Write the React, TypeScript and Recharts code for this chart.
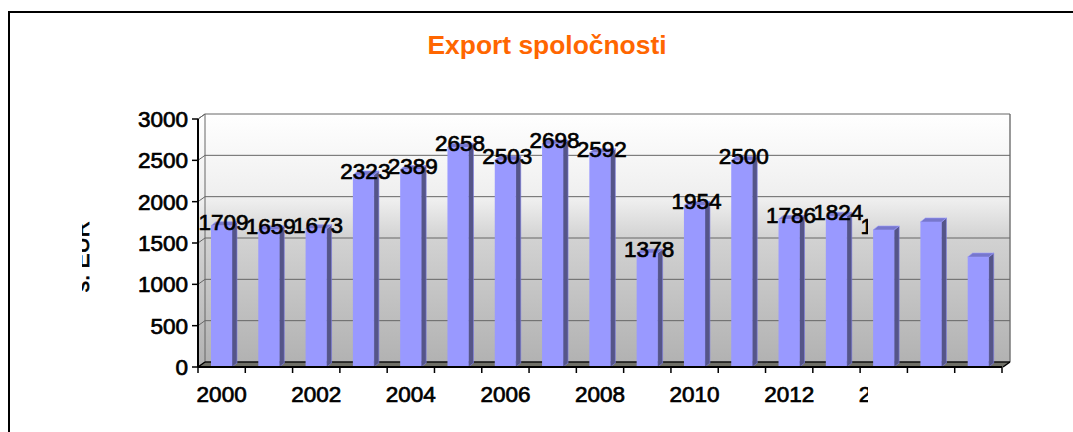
import { BarChart, Bar, XAxis, YAxis, CartesianGrid, LabelList } from "recharts";

const years = ["2000", "2001", "2002", "2003", "2004", "2005", "2006", "2007", "2008", "2009", "2010", "2011", "2012", "2013", "2014", "2015", "2016"];
const exportValues = [1709, 1659, 1673, 2323, 2389, 2658, 2503, 2698, 2592, 1378, 1954, 2500, 1786, 1824, 1657, 1754, 1330];
const yTicks = [0, 500, 1000, 1500, 2000, 2500, 3000];

const data = years.map((year, i) => ({ year, value: exportValues[i] }));

const FONT = "'Liberation Sans', Arial, sans-serif";
const DX = 7; // depth of the walls
const DY = 5;
const BAR_DX = 5;
const BAR_DY = 4;
const SLOT = 804 / 17;
const PLOT_H = 248;

function Bar3D(props: any) {
  const { x, y, width, height } = props;
  const r = x + width;
  const b = y + height;
  return (
    <g>
      <polygon points={`${r},${y} ${r + BAR_DX},${y - BAR_DY} ${r + BAR_DX},${b - BAR_DY} ${r},${b}`} fill="#555588" stroke="#8080e8" strokeWidth={0.6} />
      <polygon points={`${x},${y} ${x + BAR_DX},${y - BAR_DY} ${r + BAR_DX},${y - BAR_DY} ${r},${y}`} fill="#7777cc" stroke="#9999ff" strokeWidth={0.6} />
      <rect x={x} y={y} width={width} height={height} fill="#9999ff" />
    </g>
  );
}

function gridLine(props: any) {
  const { x1, x2, y1, index } = props;
  const left = x1 - DX;
  const right = x2 - DX;
  const isFloor = y1 >= 366;
  return (
    <g key={index}>
      {isFloor && (
        <g>
          <polygon points={`${left},${y1 - PLOT_H} ${x1},${y1 - PLOT_H - DY} ${x1},${y1 - DY} ${left},${y1}`} fill="url(#wall)" stroke="#666" strokeWidth={1} />
          <line x1={x2} y1={y1 - PLOT_H - DY} x2={x2} y2={y1 - DY} stroke="#777" strokeWidth={1.5} />
          <polygon points={`${left},${y1} ${x1},${y1 - DY} ${x2},${y1 - DY} ${right},${y1}`} fill="#707068" />
          <line x1={x1} y1={y1 - DY} x2={x2} y2={y1 - DY} stroke="#111" strokeWidth={1.5} />
          <line x1={right} y1={y1} x2={x2} y2={y1 - DY} stroke="#000" strokeWidth={1.5} />
          <line x1={left} y1={y1} x2={x1} y2={y1 - DY} stroke="#000" strokeWidth={1.5} />
        </g>
      )}
      {!isFloor && <polyline points={`${left},${y1} ${x1},${y1 - DY} ${x2},${y1 - DY}`} fill="none" stroke="#666" strokeWidth={1} />}
    </g>
  );
}

function XTick(props: any) {
  const { x, y, index, payload } = props;
  const edge = x - SLOT / 2;
  return (
    <g>
      <line x1={edge} y1={y - 8} x2={edge} y2={y - 2} stroke="#000" strokeWidth={1.5} />
      {index === years.length - 1 && (
        <line x1={edge + SLOT} y1={y - 8} x2={edge + SLOT} y2={y - 2} stroke="#000" strokeWidth={1.5} />
      )}
      {index % 2 === 0 && (
        <text x={x} y={y + 27} textAnchor="middle" clipPath="url(#cutRight)" fontFamily={FONT} fontSize={22.5} stroke="#000" strokeWidth={0.7} fill="#000">
          {payload.value}
        </text>
      )}
    </g>
  );
}

function ValueLabel(props: any) {
  const { x, y, width, value } = props;
  return (
    <text x={x + width / 2 + 2} y={y + 4} textAnchor="middle" clipPath="url(#cutRight)" fontFamily={FONT} fontSize={22.5} stroke="#000" strokeWidth={0.7} fill="#000">
      {value}
    </text>
  );
}

export default function App() {
  return (
    <div style={{ position: "absolute", left: 0, top: 0, width: 1073, height: 432, background: "#fff" }}>
      <div style={{ position: "absolute", left: 8, top: 11, width: 1065, height: 421, borderLeft: "2px solid #000", borderTop: "2px solid #000" }} />
      <BarChart width={1073} height={432} data={data} margin={{ top: 119, right: 71, bottom: 25, left: 128 }} barCategoryGap="0%">
        <defs>
          <linearGradient id="wall" x1="0" y1="0" x2="0" y2="1">
            <stop offset="0" stopColor="#ffffff" />
            <stop offset="0.35" stopColor="#eeeeee" />
            <stop offset="0.5" stopColor="#d2d2d2" />
            <stop offset="1" stopColor="#b2b2b2" />
          </linearGradient>
          <clipPath id="cutRight">
            <rect x={0} y={0} width={868} height={432} />
          </clipPath>
          <clipPath id="cutTitle">
            <rect x={82} y={200} width={10} height={93} />
          </clipPath>
        </defs>
        <text x={547} y={54} textAnchor="middle" fontFamily={FONT} fontSize={26.4} fontWeight="bold" fill="#ff6600">
          Export spoločnosti
        </text>
        <g clipPath="url(#cutTitle)">
          <text transform="translate(89,221) rotate(-90)" textAnchor="end" fontFamily={FONT} fontSize={22.5} stroke="#000" strokeWidth={0.7} fill="#000">
            tis. EUR
          </text>
        </g>
        <CartesianGrid x={205} y={114} width={805} height={248} fill="url(#wall)" fillOpacity={1} vertical={false} horizontal={gridLine} syncWithTicks />
        <XAxis dataKey="year" interval={0} height={40} axisLine={{ stroke: "#000", strokeWidth: 2 }} tickLine={false} tick={XTick} />
        <YAxis domain={[0, 3000]} ticks={yTicks} width={70} tickMargin={4} axisLine={{ stroke: "#000", strokeWidth: 2 }} tickLine={{ stroke: "#000", strokeWidth: 1.5 }} tick={{ fontFamily: FONT, fontSize: 22.5, fill: "#000", stroke: "#000", strokeWidth: 0.7 }} />
        <Bar dataKey="value" barSize={21} shape={Bar3D} isAnimationActive={false}>
          <LabelList dataKey="value" content={ValueLabel} />
        </Bar>
      </BarChart>
    </div>
  );
}
